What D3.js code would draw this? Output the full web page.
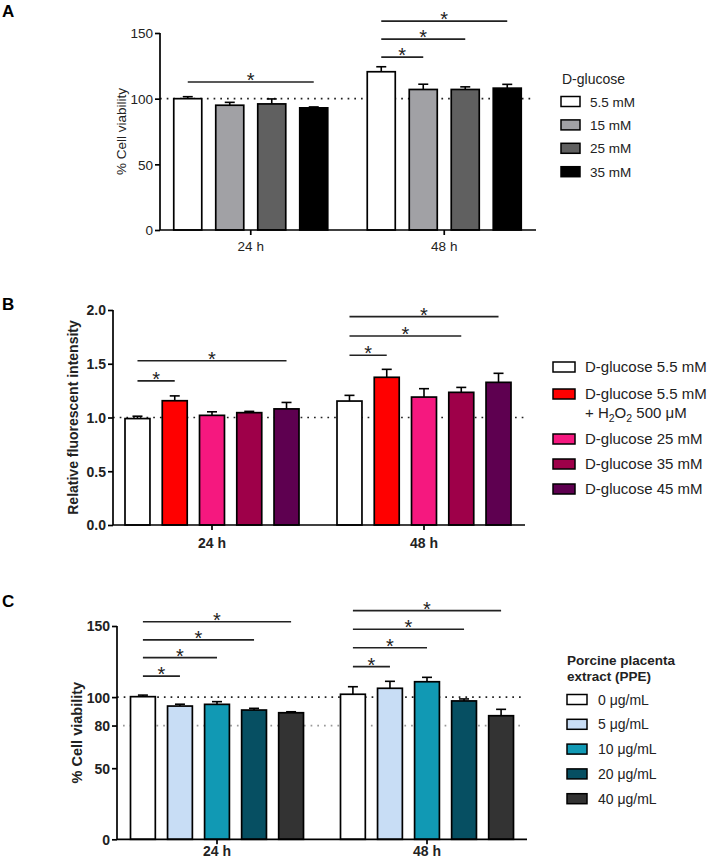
<!DOCTYPE html>
<html><head><meta charset="utf-8">
<script src="https://cdn.jsdelivr.net/npm/d3@7"></script>
<style>
body{margin:0;background:#fff;}
svg{display:block;font-family:"Liberation Sans",Arial,Helvetica,sans-serif;}
</style></head>
<body><svg id="chart" width="709" height="861"></svg>
<script>
// ---------- DATA ----------
const groups = ["24 h", "48 h"];

// Panel A
const seriesA = ["5.5 mM", "15 mM", "25 mM", "35 mM"];
const valuesA = [[100, 95, 96, 93], [120.5, 107, 107, 108]];
const errorsA = [[1.5, 2.2, 3.8, 0.7], [3.8, 4, 2, 2.9]];
const ticksA = [0, 50, 100, 150];
const sigA = [ // [group, fromIdx, toIdx, level]
  [0, 0, 3, 112.7],
  [1, 0, 3, 159], [1, 0, 2, 145.4], [1, 0, 1, 131.7]
];

// Panel B
const seriesB = ["D-glucose 5.5 mM", "D-glucose 5.5 mM + H2O2 500 µM", "D-glucose 25 mM", "D-glucose 35 mM", "D-glucose 45 mM"];
const valuesB = [[0.99, 1.156, 1.02, 1.045, 1.08], [1.153, 1.374, 1.19, 1.234, 1.327]];
const errorsB = [[0.022, 0.045, 0.033, 0.012, 0.06], [0.053, 0.074, 0.078, 0.046, 0.084]];
const ticksB = [0, 0.5, 1.0, 1.5, 2.0];
const sigB = [
  [0, 0, 1, 1.34], [0, 0, 4, 1.528],
  [1, 0, 1, 1.579], [1, 0, 3, 1.758], [1, 0, 4, 1.938]
];

// Panel C
const seriesC = ["0 μg/mL", "5 μg/mL", "10 μg/mL", "20 μg/mL", "40 μg/mL"];
const valuesC = [[100.3, 93.7, 94.9, 90.9, 89], [102, 106.2, 110.8, 97.3, 86.9]];
const errorsC = [[1.1, 1.3, 1.9, 1.2, 0.7], [5.3, 4.9, 3.1, 1.4, 4.5]];
const ticksC = [0, 50, 80, 100, 150];
const sigC = [
  [0, 0, 1, 114.8], [0, 0, 2, 127.7], [0, 0, 3, 140.2], [0, 0, 4, 153],
  [1, 0, 1, 121.4], [1, 0, 2, 134.7], [1, 0, 3, 147.7], [1, 0, 4, 160.8]
];

// ---------- DRAW ----------
const svg = d3.select("#chart");

function panel(cfg) {
  const g = svg.append("g");
  const y = d3.scaleLinear().domain(cfg.domain).range([cfg.y0, cfg.y1]);
  const x = d3.scaleBand().domain(groups).range(cfg.bandRange).padding(0);
  const inner = d3.scaleBand().domain(d3.range(cfg.series.length))
    .range([-cfg.groupW / 2, cfg.groupW / 2]).paddingInner(cfg.padIn).paddingOuter(0);
  const cx = (gi, si) => x(groups[gi]) + x.bandwidth() / 2 + inner(si) + inner.bandwidth() / 2;

  cfg.refs.forEach(r => {
    g.append("line").attr("x1", r.from || cfg.axisX0).attr("x2", cfg.refEnd)
      .attr("y1", y(r.v)).attr("y2", y(r.v))
      .attr("stroke", r.color).attr("stroke-width", 1.7).attr("stroke-dasharray", "1.7,5");
  });

  groups.forEach((grp, gi) => {
    cfg.series.forEach((s, si) => {
      const v = cfg.values[gi][si], e = cfg.errors[gi][si];
      const xc = cx(gi, si);
      const bw = inner.bandwidth();
      g.append("line").attr("x1", xc).attr("x2", xc).attr("y1", y(v)).attr("y2", y(v + e))
        .attr("stroke", "#000").attr("stroke-width", 1.6);
      g.append("line").attr("x1", xc - 5).attr("x2", xc + 5).attr("y1", y(v + e)).attr("y2", y(v + e))
        .attr("stroke", "#000").attr("stroke-width", 1.6);
      g.append("rect").attr("x", xc - bw / 2).attr("y", y(v)).attr("width", bw)
        .attr("height", y(0) - y(v)).attr("fill", cfg.colors[si])
        .attr("stroke", "#000").attr("stroke-width", 1.7);
    });
  });

  const ya = g.append("g").attr("transform", `translate(${cfg.axisX0},0)`)
    .call(d3.axisLeft(y).tickValues(cfg.ticks).tickSize(5).tickPadding(2).tickFormat(cfg.fmt));
  ya.select(".domain").remove();
  g.append("line").attr("x1", cfg.axisX0).attr("x2", cfg.axisX0).attr("y1", y(0)).attr("y2", y(cfg.domain[1]))
    .attr("stroke", "#000").attr("stroke-width", 1.7);
  ya.selectAll(".tick line").attr("stroke-width", 1.7);
  ya.selectAll("text").attr("font-size", cfg.tickFs).attr("font-weight", cfg.bold ? "bold" : "normal")
    .attr("fill", "#222").attr("dy", "0.35em");

  const xa = g.append("g").attr("transform", `translate(0,${y(0)})`)
    .call(d3.axisBottom(x).tickSize(5).tickPadding(cfg.xPad));
  xa.select(".domain").remove();
  g.append("line").attr("x1", cfg.axisX0).attr("x2", cfg.axisX1).attr("y1", y(0)).attr("y2", y(0))
    .attr("stroke", "#000").attr("stroke-width", 1.7);
  xa.selectAll(".tick line").attr("stroke-width", 1.7);
  xa.selectAll("text").attr("font-size", cfg.tickFs).attr("font-weight", cfg.bold ? "bold" : "normal")
    .attr("fill", "#222");

  g.append("text").attr("transform", `translate(${cfg.ylabX},${(y(0) + y(cfg.domain[1])) / 2}) rotate(-90)`)
    .attr("text-anchor", "middle").attr("font-size", cfg.ylabFs)
    .attr("font-weight", cfg.bold ? "bold" : "normal").attr("fill", "#222").text(cfg.ylab);

  g.append("text").attr("x", 2).attr("y", cfg.letterY).attr("font-size", 17).attr("font-weight", "bold")
    .text(cfg.letter);

  cfg.sig.forEach(([gi, a, b, lv]) => {
    const x1 = cx(gi, a), x2 = cx(gi, b);
    g.append("line").attr("x1", x1).attr("x2", x2).attr("y1", y(lv)).attr("y2", y(lv))
      .attr("stroke", "#222").attr("stroke-width", 1.7);
    g.append("text").attr("x", (x1 + x2) / 2).attr("y", y(lv) + 5).attr("text-anchor", "middle")
      .attr("font-size", 20).attr("fill", "#222").text("*");
  });
  return { g, y };
}

// Panel A
panel({
  letter: "A", letterY: 17, domain: [0, 150], y0: 230, y1: 33,
  bandRange: [154, 541], groupW: 154, padIn: 0.333,
  axisX0: 160, axisX1: 536, refEnd: 533, xPad: 6,
  series: seriesA, values: valuesA, errors: errorsA, ticks: ticksA, fmt: d3.format("d"),
  colors: ["#ffffff", "#a1a1a5", "#606060", "#000000"],
  refs: [{ v: 100, color: "#222" }],
  sig: sigA, tickFs: 13.5, ylabFs: 13.5, ylabX: 126, ylab: "% Cell viability", bold: false
});
{
  const lg = svg.append("g");
  lg.append("text").attr("x", 562).attr("y", 84).attr("font-size", 14).attr("fill", "#222").text("D-glucose");
  const cols = ["#ffffff", "#a1a1a5", "#606060", "#000000"];
  seriesA.forEach((s, i) => {
    const yc = 101.5 + i * 23.4;
    lg.append("rect").attr("x", 561).attr("y", yc - 5).attr("width", 19).attr("height", 10)
      .attr("fill", cols[i]).attr("stroke", "#000").attr("stroke-width", 1.5);
    lg.append("text").attr("x", 590).attr("y", yc + 5).attr("font-size", 13.5).attr("fill", "#222").text(s);
  });
}

// Panel B
const colB = ["#ffffff", "#ff0000", "#f5187f", "#9e0049", "#5e0050"];
panel({
  letter: "B", letterY: 310, domain: [0, 2], y0: 525, y1: 310,
  bandRange: [106, 530], groupW: 174, padIn: 0.33,
  axisX0: 113, axisX1: 525, refEnd: 525, xPad: 8,
  series: seriesB, values: valuesB, errors: errorsB, ticks: ticksB, fmt: d3.format(".1f"),
  colors: colB,
  refs: [{ v: 1, color: "#222" }],
  sig: sigB, tickFs: 14, ylabFs: 14, ylabX: 78, ylab: "Relative fluorescent intensity", bold: true
});
{
  const lg = svg.append("g");
  const ys = [367, 394, 439, 464, 489];
  seriesB.forEach((s, i) => {
    const yc = ys[i];
    lg.append("rect").attr("x", 553).attr("y", yc - 5).attr("width", 22).attr("height", 10)
      .attr("fill", colB[i]).attr("stroke", "#000").attr("stroke-width", 1.5);
    if (i === 1) {
      lg.append("text").attr("x", 585).attr("y", yc + 5).attr("font-size", 15).attr("fill", "#222").text("D-glucose 5.5 mM");
      const t = lg.append("text").attr("x", 585).attr("y", yc + 24).attr("font-size", 15).attr("fill", "#222");
      t.append("tspan").text("+ H");
      t.append("tspan").attr("font-size", 10.5).attr("dy", 4).text("2");
      t.append("tspan").attr("dy", -4).text("O");
      t.append("tspan").attr("font-size", 10.5).attr("dy", 4).text("2");
      t.append("tspan").attr("dy", -4).text(" 500 μM");
    } else {
      lg.append("text").attr("x", 585).attr("y", yc + 5).attr("font-size", 15).attr("fill", "#222").text(s);
    }
  });
}

// Panel C
const colC = ["#ffffff", "#c8ddf5", "#1199b4", "#064f62", "#333333"];
panel({
  letter: "C", letterY: 607, domain: [0, 150], y0: 839.3, y1: 626,
  bandRange: [112, 532], groupW: 173, padIn: 0.33,
  axisX0: 117, axisX1: 527, refEnd: 523, xPad: 2,
  series: seriesC, values: valuesC, errors: errorsC, ticks: ticksC, fmt: d3.format("d"),
  colors: colC,
  refs: [{ v: 100, color: "#222" }, { v: 80, color: "#999", from: 123 }],
  sig: sigC, tickFs: 14, ylabFs: 14.5, ylabX: 82, ylab: "% Cell viability", bold: true
});
{
  const lg = svg.append("g");
  lg.append("text").attr("x", 567).attr("y", 665).attr("font-size", 13.5).attr("font-weight", "bold")
    .attr("fill", "#222").text("Porcine placenta");
  lg.append("text").attr("x", 567).attr("y", 681).attr("font-size", 13.5).attr("font-weight", "bold")
    .attr("fill", "#222").text("extract (PPE)");
  seriesC.forEach((s, i) => {
    const yc = 699.5 + i * 24.8;
    lg.append("rect").attr("x", 567).attr("y", yc - 5).attr("width", 20).attr("height", 10)
      .attr("fill", colC[i]).attr("stroke", "#000").attr("stroke-width", 1.5);
    lg.append("text").attr("x", 598).attr("y", yc + 5).attr("font-size", 14).attr("fill", "#222").text(s);
  });
}
</script></body></html>
